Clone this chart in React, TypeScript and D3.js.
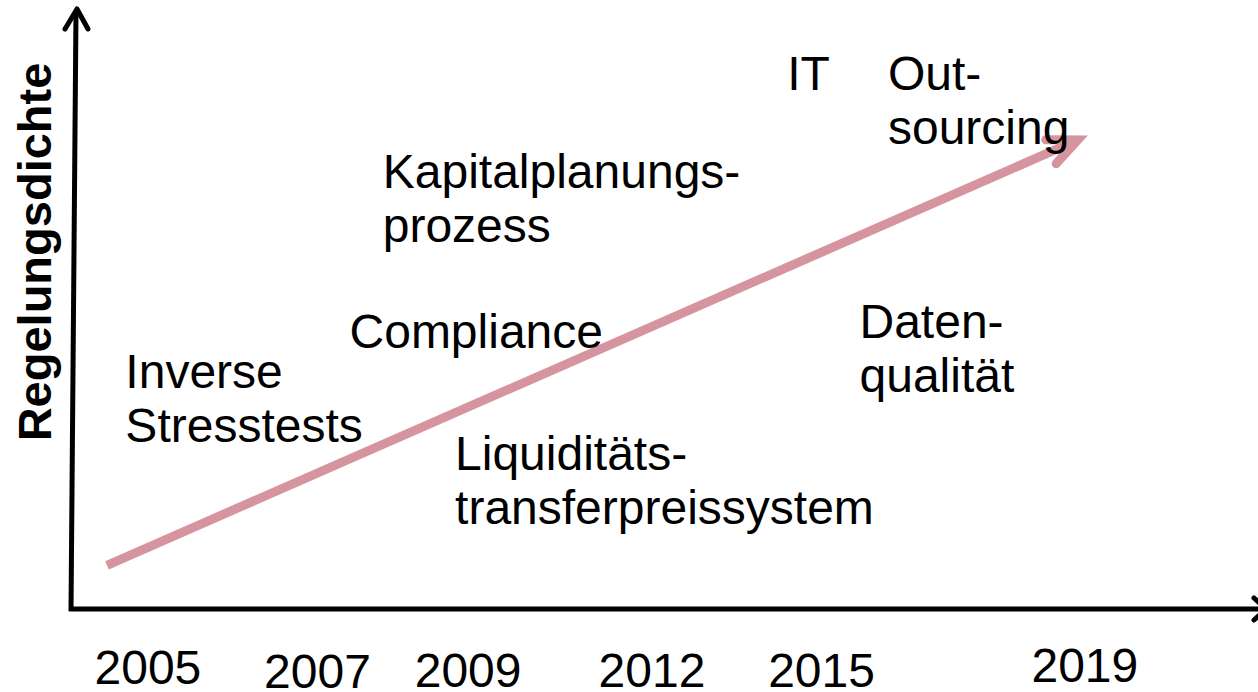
import React from "react";
import * as d3 from "d3";

// ---- data (abstract chart units: x = time 0..100, y = Regelungsdichte 0..100) ----
const yearLabels = ["2005", "2007", "2009", "2012", "2015", "2019"];
const yearPos = [6.4, 20.7, 33.4, 48.9, 63.2, 85.4];
const yearBase = [-12.5, -13.2, -13.0, -13.0, -13.0, -12.2];

const topicLines = [
  ["Inverse", "Stresstests"],
  ["Compliance"],
  ["Kapitalplanungs-", "prozess"],
  ["Liquiditäts-", "transferpreissystem"],
  ["IT"],
  ["Out-", "sourcing"],
  ["Daten-", "qualität"],
];
const topicX = [4.5, 23.4, 26.2, 32.3, 60.3, 68.8, 66.4];
const topicY = [36.9, 43.6, 70.3, 23.2, 86.6, 86.6, 45.2];

const trendStart = [2.95, 7.3];
const trendEnd = [84.8, 78.3];

const yAxisTitle = "Regelungsdichte";

const W = 1258;
const H = 692;

export default function App() {
  const x = d3.scaleLinear().domain([0, 100]).range([72, 1258]);
  const y = d3.scaleLinear().domain([0, 100]).range([609, 10]);

  const font = "'Liberation Sans', Arial, sans-serif";
  const fs = 48;
  const lh = 54;

  // trend arrow
  const sx = x(trendStart[0]);
  const sy = y(trendStart[1]);
  const ex = x(trendEnd[0]);
  const ey = y(trendEnd[1]);
  const ang = Math.atan2(ey - sy, ex - sx);
  const wing = 32;
  const spread = (24 * Math.PI) / 180;
  const w1 = [ex - wing * Math.cos(ang - spread), ey - wing * Math.sin(ang - spread)];
  const w2 = [ex - wing * Math.cos(ang + spread), ey - wing * Math.sin(ang + spread)];
  const line = d3.line();
  const pink = "#d6949f";

  const x0 = x(0);
  const y0 = y(0);

  return (
    <svg
      width={W}
      height={H}
      style={{ position: "absolute", left: 0, top: 0, background: "#fff" }}
    >
      {/* trend arrow */}
      <path
        d={line([[sx, sy], [ex, ey]]) || ""}
        stroke={pink}
        strokeWidth={9}
        fill="none"
        strokeLinecap="butt"
      />
      <path
        d={line([w1 as [number, number], [ex, ey], w2 as [number, number]]) || ""}
        stroke={pink}
        strokeWidth={9}
        fill="none"
        strokeLinecap="round"
        strokeLinejoin="miter"
      />

      {/* axes */}
      <path
        d={line([[x0 - 1, y0 + 2], [x0 + 4, y(99.7)]]) || ""}
        stroke="#000"
        strokeWidth={5}
        fill="none"
      />
      <path
        d={line([[x0 - 7, 29], [x0 + 5, 9], [x0 + 16, 29]]) || ""}
        stroke="#000"
        strokeWidth={5}
        fill="none"
        strokeLinecap="round"
        strokeLinejoin="round"
      />
      <path
        d={line([[x0 - 3, y0], [W + 10, y0]]) || ""}
        stroke="#000"
        strokeWidth={5}
        fill="none"
      />
      <path
        d={line([[W - 4, y0 - 11], [W + 8, y0], [W - 4, y0 + 11]]) || ""}
        stroke="#000"
        strokeWidth={5}
        fill="none"
        strokeLinecap="round"
        strokeLinejoin="round"
      />

      {/* y axis title */}
      <text
        transform={`translate(51, 252) rotate(-90)`}
        textAnchor="middle"
        fontFamily={font}
        fontWeight="bold"
        fontSize={47}
        fill="#000"
      >
        {yAxisTitle}
      </text>

      {/* topic labels */}
      {topicLines.map((lines, i) => (
        <text
          key={i}
          x={x(topicX[i])}
          y={y(topicY[i])}
          fontFamily={font}
          fontSize={fs}
          fill="#000"
        >
          {lines.map((l, j) => (
            <tspan key={j} x={x(topicX[i])} dy={j === 0 ? 0 : lh}>
              {l}
            </tspan>
          ))}
        </text>
      ))}

      {/* year labels */}
      {yearLabels.map((yr, i) => (
        <text
          key={yr}
          x={x(yearPos[i])}
          y={y(yearBase[i])}
          textAnchor="middle"
          fontFamily={font}
          fontSize={48}
          fill="#000"
        >
          {yr}
        </text>
      ))}
    </svg>
  );
}
